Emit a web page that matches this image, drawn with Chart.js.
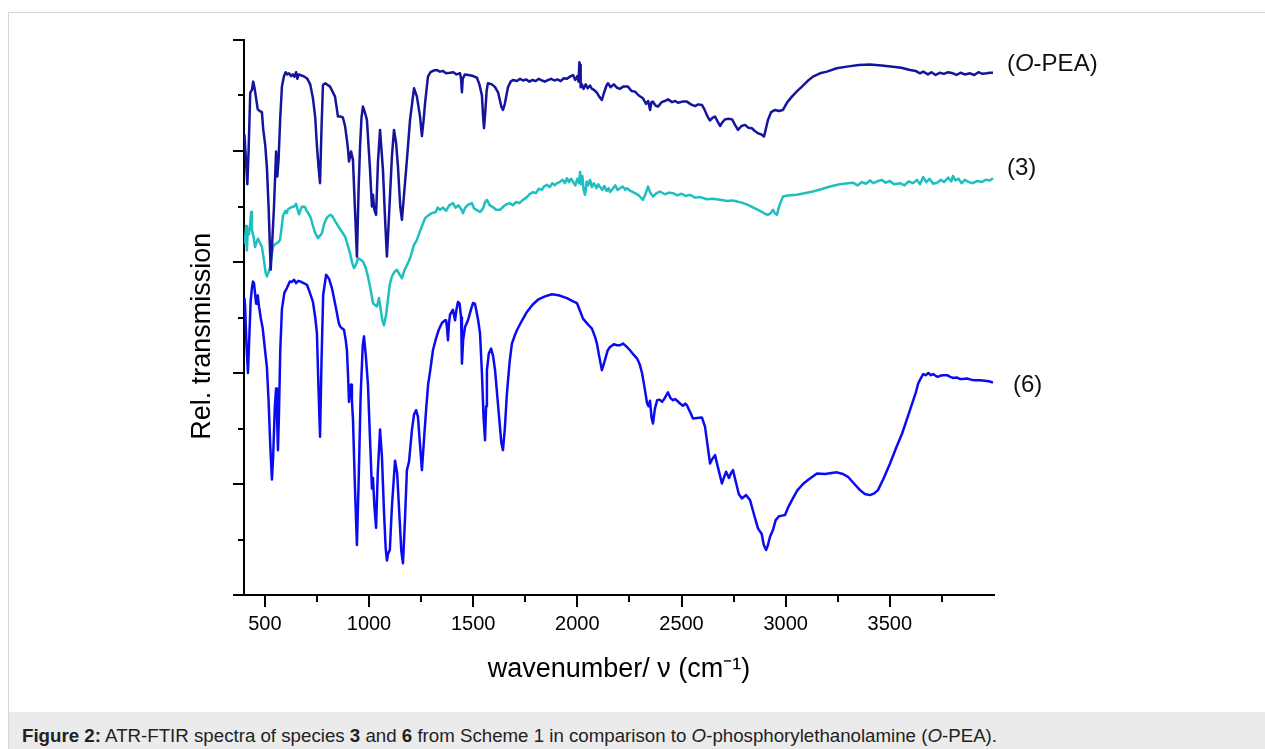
<!DOCTYPE html>
<html lang="en">
<head>
    <meta charset="UTF-8">
    <title>ATR-FTIR spectra</title>
    <script src="https://cdn.jsdelivr.net/npm/chart.js@4.4.1/dist/chart.umd.min.js"></script>
    <style>
        body { margin: 0; background: #fff; font-family: "Liberation Sans", Arial, sans-serif; }
        #frame { position: absolute; left: 8px; top: 12px; width: 1300px; height: 800px;
                 border-left: 1px solid #d6d6d6; border-top: 1px solid #d6d6d6; }
        #chart { position: absolute; left: 0; top: 0; }
        #caption { position: absolute; left: 9px; top: 712px; right: 0; height: 37px;
                   background: #ebebeb; box-sizing: border-box; padding: 13px 0 0 13px;
                   font-size: 18.7px; line-height: 22px; color: #222; white-space: nowrap; }
    </style>
    <script>
        // wavenumber (cm-1), relative transmission
        const opeaSpectrum = [
            [402,8.3],[410,7.8],[416,7.4],[422,8.0],[430,9.05],[438,9.1],[444,9.25],[450,9.15],[458,8.95],[466,8.75],
            [476,8.72],[486,8.7],[492,8.4],[502,8.1],[510,7.7],[518,7.0],[528,5.86],[536,6.4],[544,7.0],[554,7.99],
            [560,7.54],[566,7.85],[574,8.6],[582,9.16],[592,9.35],[600,9.42],[608,9.38],[616,9.4],[626,9.35],[634,9.38],
            [642,9.34],[650,9.42],[656,9.3],[662,9.38],[676,9.36],[690,9.34],[704,9.3],[718,9.2],[731,8.95],[742,8.6],
            [750,8.1],[758,7.7],[765,7.42],[772,8.4],[779,9.19],[790,9.22],[813,9.16],[837,8.98],[851,8.62],
            [865,8.62],[875,8.6],[885,8.45],[894,8.2],[900,8.0],[904,7.81],[914,7.99],[923,7.84],[932,7.0],[942,6.1],
            [950,7.3],[957,8.08],[964,8.6],[971,8.8],[980,8.7],[990,8.56],[1005,7.66],[1014,7.0],[1019,7.21],[1025,6.95],
            [1034,6.85],[1043,7.8],[1053,8.38],[1067,7.66],[1078,6.7],[1086,6.1],[1093,6.6],[1101,7.21],[1110,7.9],[1120,8.38],
            [1130,8.15],[1139,7.72],[1150,7.0],[1158,6.76],[1170,7.3],[1182,7.84],[1197,8.56],[1216,9.13],[1230,8.98],
            [1245,8.62],[1254,8.27],[1262,8.55],[1269,8.86],[1283,9.34],[1295,9.42],[1310,9.45],[1326,9.46],[1340,9.43],[1355,9.44],
            [1370,9.4],[1389,9.41],[1405,9.42],[1420,9.38],[1437,9.4],[1442,9.3],[1446,9.06],[1450,9.3],[1460,9.38],[1478,9.37],
            [1500,9.35],[1518,9.32],[1530,9.2],[1542,9.0],[1548,8.6],[1552,8.41],[1558,8.7],[1565,9.1],[1571,9.22],[1590,9.2],
            [1605,9.15],[1620,9.05],[1635,8.8],[1643,8.74],[1652,8.85],[1667,9.15],[1680,9.25],[1691,9.28],[1710,9.26],[1725,9.3],
            [1740,9.27],[1755,9.29],[1770,9.25],[1785,9.28],[1800,9.26],[1815,9.3],[1830,9.27],[1845,9.25],[1860,9.28],[1875,9.3],
            [1890,9.27],[1905,9.29],[1920,9.26],[1935,9.31],[1950,9.3],[1965,9.34],[1979,9.37],[1990,9.28],[2000,9.35],[2006,9.25],
            [2010,9.6],[2013,9.55],[2016,9.15],[2022,9.2],[2030,9.12],[2040,9.2],[2050,9.13],[2061,9.18],[2070,9.12],[2080,9.1],
            [2094,9.05],[2105,8.98],[2118,8.92],[2128,9.05],[2140,9.18],[2147,9.22],[2160,9.15],[2175,9.2],[2190,9.14],[2205,9.12],
            [2220,9.16],[2243,9.16],[2260,9.08],[2277,9.07],[2295,9.0],[2315,8.95],[2330,8.85],[2340,8.9],[2349,8.74],[2356,8.88],
            [2363,8.89],[2375,8.82],[2387,8.8],[2405,8.88],[2420,8.9],[2435,8.93],[2455,8.88],[2470,8.9],[2483,8.87],[2505,8.89],
            [2526,8.89],[2545,8.84],[2565,8.81],[2580,8.84],[2598,8.83],[2610,8.75],[2625,8.62],[2637,8.55],[2650,8.6],[2661,8.62],
            [2675,8.52],[2685,8.45],[2697,8.52],[2709,8.57],[2725,8.58],[2743,8.57],[2757,8.47],[2771,8.38],[2788,8.45],[2805,8.47],
            [2820,8.42],[2838,8.41],[2852,8.36],[2867,8.32],[2882,8.3],[2896,8.26],[2905,8.4],[2915,8.56],[2930,8.7],[2949,8.74],
            [2968,8.72],[2987,8.74],[3008,8.88],[3030,8.98],[3055,9.08],[3078,9.16],[3105,9.26],[3131,9.34],[3165,9.4],[3198,9.43],
            [3245,9.49],[3294,9.52],[3350,9.55],[3405,9.56],[3460,9.54],[3515,9.52],[3555,9.5],[3597,9.46],[3625,9.44],[3645,9.4],
            [3660,9.43],[3683,9.38],[3700,9.42],[3720,9.37],[3740,9.41],[3760,9.39],[3780,9.42],[3803,9.4],[3820,9.37],[3840,9.41],
            [3860,9.38],[3885,9.4],[3905,9.37],[3925,9.42],[3945,9.39],[3965,9.4],[3980,9.41],[3995,9.41]
        ];

        const species3Spectrum = [
            [402,6.5],[405,6.34],[410,6.65],[414,6.21],[418,6.6],[424,6.5],[430,6.7],[434,6.9],[438,6.58],[446,6.45],
            [453,6.27],[460,6.35],[467,6.42],[476,6.35],[486,6.27],[496,6.02],[504,5.8],[510,5.74],[518,5.82],[525,5.9],
            [532,6.1],[539,6.27],[548,6.32],[558,6.34],[566,6.36],[573,6.4],[580,6.6],[587,6.83],[598,6.92],[605,6.88],
            [611,6.95],[620,6.97],[630,6.99],[640,7.0],[650,7.05],[657,6.95],[664,6.86],[672,6.95],[680,7.0],[693,6.99],
            [700,6.92],[707,6.89],[720,6.8],[731,6.65],[742,6.52],[755,6.43],[764,6.47],[774,6.52],[786,6.7],[798,6.8],
            [813,6.85],[823,6.83],[840,6.72],[860,6.6],[885,6.46],[898,6.3],[909,6.16],[918,6.0],[928,5.89],[937,5.95],
            [947,6.07],[960,6.04],[971,6.01],[984,5.9],[995,5.74],[1008,5.5],[1019,5.26],[1030,5.22],[1038,5.2],[1048,5.35],
            [1056,5.15],[1064,4.95],[1072,4.86],[1082,5.05],[1091,5.33],[1100,5.6],[1110,5.74],[1122,5.82],[1134,5.86],[1146,5.78],
            [1158,5.71],[1170,5.85],[1187,5.98],[1200,6.1],[1215,6.3],[1230,6.4],[1245,6.56],[1269,6.79],[1285,6.84],[1302,6.88],[1320,6.9],
            [1330,6.98],[1341,6.94],[1355,6.98],[1370,6.92],[1385,7.02],[1403,7.06],[1415,6.98],[1430,7.02],[1443,6.95],[1451,6.88],
            [1462,6.98],[1475,7.03],[1494,7.06],[1505,6.96],[1520,6.93],[1533,6.9],[1548,6.97],[1557,7.08],[1566,7.12],[1580,7.02],
            [1595,6.99],[1610,6.94],[1629,6.94],[1645,7.0],[1660,7.04],[1677,7.06],[1690,7.02],[1705,7.08],[1722,7.06],[1739,7.12],
            [1755,7.16],[1770,7.22],[1787,7.26],[1800,7.24],[1815,7.32],[1830,7.3],[1840,7.36],[1854,7.39],[1868,7.35],[1880,7.42],
            [1892,7.38],[1902,7.42],[1915,7.44],[1930,7.48],[1940,7.42],[1950,7.51],[1960,7.44],[1970,7.5],[1979,7.45],[1990,7.38],
            [2000,7.5],[2008,7.42],[2013,7.62],[2018,7.4],[2024,7.55],[2030,7.3],[2037,7.21],[2045,7.45],[2052,7.38],[2061,7.48],
            [2070,7.35],[2080,7.42],[2092,7.33],[2100,7.4],[2109,7.35],[2120,7.3],[2130,7.37],[2140,7.28],[2150,7.33],[2157,7.26],
            [2170,7.32],[2182,7.38],[2193,7.3],[2205,7.33],[2218,7.36],[2230,7.3],[2238,7.33],[2255,7.28],[2277,7.24],[2295,7.2],
            [2315,7.12],[2325,7.2],[2339,7.36],[2350,7.25],[2363,7.18],[2380,7.24],[2397,7.27],[2420,7.22],[2440,7.25],[2459,7.24],
            [2480,7.2],[2500,7.23],[2520,7.19],[2541,7.21],[2565,7.16],[2590,7.17],[2622,7.13],[2650,7.14],[2685,7.12],[2720,7.1],
            [2745,7.11],[2766,7.09],[2790,7.07],[2819,7.03],[2850,6.97],[2877,6.92],[2900,6.87],[2915,6.85],[2928,6.88],[2939,6.94],
            [2948,6.88],[2958,6.85],[2970,7.02],[2987,7.18],[3010,7.2],[3054,7.21],[3090,7.24],[3131,7.27],[3170,7.31],[3213,7.36],
            [3260,7.4],[3300,7.42],[3323,7.43],[3345,7.38],[3365,7.44],[3385,7.41],[3405,7.47],[3420,7.42],[3438,7.45],[3460,7.48],
            [3480,7.43],[3500,7.46],[3520,7.4],[3549,7.42],[3570,7.38],[3590,7.45],[3612,7.42],[3630,7.48],[3645,7.4],[3660,7.53],
            [3675,7.44],[3690,7.5],[3708,7.41],[3727,7.43],[3745,7.48],[3760,7.44],[3780,7.52],[3795,7.45],[3803,7.55],[3815,7.47],
            [3830,7.5],[3845,7.42],[3860,7.48],[3880,7.44],[3899,7.42],[3920,7.46],[3940,7.44],[3960,7.48],[3980,7.47],[3995,7.51]
        ];

        const species6Spectrum = [
            [402,5.35],[405,5.22],[412,4.5],[419,4.0],[426,4.7],[432,5.3],[438,5.53],[443,5.65],[448,5.62],[454,5.4],
            [458,5.25],[462,5.38],[466,5.4],[472,5.2],[480,5.0],[490,4.8],[501,4.41],[510,4.1],[518,3.5],[526,2.7],
            [534,2.08],[540,2.5],[548,3.4],[554,3.72],[558,3.3],[563,2.61],[568,3.3],[574,4.4],[582,5.15],[594,5.45],
            [606,5.53],[614,5.6],[620,5.65],[630,5.64],[640,5.68],[650,5.62],[660,5.66],[669,5.65],[686,5.62],[702,5.59],
            [716,5.45],[731,5.28],[742,5.0],[750,4.72],[757,3.8],[765,2.85],[772,4.2],[780,5.4],[794,5.77],[808,5.7],
            [822,5.53],[840,5.2],[855,4.9],[861,4.84],[872,4.8],[880,4.78],[888,4.6],[894,4.41],[900,3.9],[904,3.48],
            [909,3.75],[914,3.79],[918,3.5],[923,3.17],[932,2.0],[942,0.9],[950,2.0],[960,3.6],[970,4.5],[976,4.66],
            [985,4.3],[995,3.79],[1005,2.8],[1014,1.92],[1019,2.11],[1026,1.6],[1034,1.21],[1042,2.2],[1053,2.98],[1062,2.5],
            [1072,1.5],[1080,0.85],[1086,0.62],[1092,0.75],[1100,0.81],[1110,1.6],[1125,2.42],[1135,2.2],[1145,1.5],[1155,0.8],
            [1163,0.57],[1172,1.3],[1182,2.25],[1192,2.4],[1206,2.97],[1216,3.25],[1226,3.33],[1235,3.21],[1245,2.7],[1254,2.25],
            [1264,2.8],[1274,3.33],[1284,3.8],[1293,4.02],[1307,4.41],[1320,4.6],[1335,4.78],[1350,4.9],[1365,4.95],[1370,4.95],
            [1375,4.8],[1379,4.59],[1384,4.9],[1389,5.05],[1403,5.14],[1413,4.95],[1420,5.15],[1427,5.28],[1435,5.25],[1442,5.0],
            [1446,4.17],[1452,4.6],[1461,4.83],[1475,4.95],[1490,5.15],[1499,5.26],[1508,5.25],[1514,5.15],[1524,4.95],[1533,4.71],
            [1542,4.0],[1550,3.2],[1557,2.79],[1562,3.4],[1566,4.05],[1575,4.35],[1586,4.44],[1596,4.3],[1605,4.05],[1620,3.4],
            [1635,2.75],[1643,2.61],[1652,3.0],[1662,3.63],[1675,4.2],[1686,4.53],[1700,4.68],[1710,4.77],[1735,4.95],[1758,5.1],
            [1785,5.23],[1811,5.32],[1845,5.38],[1878,5.42],[1910,5.4],[1950,5.35],[1975,5.3],[1998,5.26],[2015,5.1],[2027,4.98],
            [2050,4.88],[2070,4.8],[2085,4.65],[2094,4.53],[2105,4.3],[2118,4.05],[2130,4.2],[2145,4.4],[2157,4.47],[2175,4.52],
            [2190,4.5],[2205,4.5],[2219,4.53],[2235,4.48],[2253,4.41],[2270,4.33],[2287,4.26],[2300,4.15],[2311,3.99],[2322,3.75],
            [2335,3.45],[2342,3.4],[2349,3.5],[2356,3.2],[2363,3.09],[2372,3.35],[2383,3.51],[2395,3.52],[2407,3.48],[2420,3.55],
            [2435,3.65],[2447,3.55],[2459,3.51],[2470,3.53],[2479,3.5],[2493,3.45],[2507,3.41],[2518,3.45],[2526,3.42],[2541,3.3],
            [2555,3.18],[2575,3.19],[2598,3.2],[2613,3.03],[2625,2.7],[2637,2.37],[2648,2.45],[2661,2.52],[2675,2.3],[2694,2.01],
            [2704,2.12],[2714,2.22],[2728,2.11],[2738,2.2],[2747,2.25],[2760,2.05],[2775,1.82],[2790,1.74],[2810,1.8],[2829,1.71],
            [2848,1.45],[2867,1.2],[2885,1.1],[2895,0.9],[2906,0.81],[2915,0.9],[2925,1.05],[2939,1.17],[2952,1.35],[2968,1.42],
            [2983,1.43],[2997,1.44],[3012,1.58],[3030,1.71],[3055,1.88],[3083,2.0],[3110,2.08],[3150,2.19],[3189,2.18],[3220,2.2],
            [3246,2.21],[3275,2.18],[3299,2.13],[3330,2.0],[3357,1.89],[3380,1.82],[3405,1.8],[3425,1.83],[3443,1.89],[3470,2.1],
            [3501,2.37],[3530,2.65],[3559,2.91],[3585,3.2],[3607,3.45],[3625,3.65],[3636,3.81],[3648,3.9],[3660,3.98],[3672,3.96],
            [3685,4.0],[3697,3.96],[3708,3.98],[3720,3.95],[3730,3.93],[3741,3.95],[3755,3.96],[3775,3.96],[3790,3.93],[3805,3.91],
            [3820,3.92],[3838,3.89],[3852,3.89],[3870,3.9],[3890,3.88],[3910,3.87],[3933,3.87],[3955,3.86],[3975,3.85],[3995,3.83]
        ];

        const seriesNames = ['(O-PEA)', '(3)', '(6)'];
        const seriesColors = ['#14149c', '#1fbfbf', '#0b0bf0'];
        const xMajorTicks = [500, 1000, 1500, 2000, 2500, 3000, 3500];
        const xMinorTicks = [750, 1250, 1750, 2250, 2750, 3250, 3750];
        const yMajorTicks = [0, 2, 4, 6, 8, 10];
        const yMinorTicks = [1, 3, 5, 7, 9];
    </script>
</head>
<body>
    <div id="frame"></div>
    <canvas id="chart" width="1265" height="712"></canvas>
    <div id="caption"><b>Figure 2:</b> ATR-FTIR spectra of species <b>3</b> and <b>6</b> from Scheme 1 in comparison to <i>O</i>-phosphorylethanolamine (<i>O</i>-PEA).</div>

    <script>
        const toPoints = arr => arr.map(p => ({x: p[0], y: p[1]}));
        const FONT = '"Liberation Sans", Arial, sans-serif';

        // tick marks (long major / short minor) and the end labels of each trace
        const axisDecor = {
            id: 'axisDecor',
            afterDraw(chart) {
                const ctx = chart.ctx;
                const xs = chart.scales.x, ys = chart.scales.y;
                const area = chart.chartArea;
                ctx.save();
                ctx.strokeStyle = '#000';
                ctx.lineWidth = 2;
                ctx.beginPath();
                xMajorTicks.forEach(v => { const px = Math.round(xs.getPixelForValue(v)); ctx.moveTo(px, area.bottom); ctx.lineTo(px, area.bottom + 12); });
                xMinorTicks.forEach(v => { const px = Math.round(xs.getPixelForValue(v)); ctx.moveTo(px, area.bottom); ctx.lineTo(px, area.bottom + 7); });
                yMajorTicks.forEach(v => { const py = Math.round(ys.getPixelForValue(v)); ctx.moveTo(area.left, py); ctx.lineTo(area.left - 11, py); });
                yMinorTicks.forEach(v => { const py = Math.round(ys.getPixelForValue(v)); ctx.moveTo(area.left, py); ctx.lineTo(area.left - 6, py); });
                ctx.stroke();

                // labels at the right end of each spectrum
                const dy = [-8, -10, 3];
                const dx = [14, 14, 20];
                ctx.fillStyle = '#111';
                ctx.textBaseline = 'middle';
                ctx.textAlign = 'left';
                chart.data.datasets.forEach((ds, i) => {
                    const last = ds.data[ds.data.length - 1];
                    let x = xs.getPixelForValue(last.x) + dx[i];
                    const y = ys.getPixelForValue(last.y) + dy[i];
                    const name = seriesNames[i];
                    if (name.indexOf('O-') === 1) {
                        // italic O in (O-PEA)
                        ctx.font = '24px ' + FONT;
                        ctx.fillText('(', x, y); x += ctx.measureText('(').width;
                        ctx.font = 'italic 24px ' + FONT;
                        ctx.fillText('O', x, y); x += ctx.measureText('O').width;
                        ctx.font = '24px ' + FONT;
                        ctx.fillText(name.slice(2), x, y);
                    } else {
                        ctx.font = '24px ' + FONT;
                        ctx.fillText(name, x, y);
                    }
                });
                ctx.restore();
            }
        };

        new Chart(document.getElementById('chart'), {
            type: 'line',
            data: {
                datasets: [opeaSpectrum, species3Spectrum, species6Spectrum].map((s, i) => ({
                    label: seriesNames[i],
                    data: toPoints(s),
                    borderColor: seriesColors[i],
                    borderWidth: 2.5,
                    pointRadius: 0,
                    tension: 0,
                    borderJoinStyle: 'round',
                    fill: false
                }))
            },
            options: {
                responsive: false,
                animation: false,
                devicePixelRatio: 1,
                layout: { padding: { left: 186, top: 40, right: 271, bottom: 0 } },
                plugins: { legend: { display: false }, tooltip: { enabled: false } },
                scales: {
                    x: {
                        type: 'linear',
                        min: 400,
                        max: 4000,
                        afterBuildTicks: scale => { scale.ticks = xMajorTicks.map(v => ({value: v})); },
                        afterFit: scale => { scale.height = 117; },
                        grid: { display: false, drawTicks: false },
                        border: { display: true, color: '#000', width: 2 },
                        ticks: { color: '#000', padding: 17, maxRotation: 0, autoSkip: false,
                                 callback: v => String(v),
                                 font: { family: FONT, size: 20 } },
                        title: { display: true, text: 'wavenumber/ \u03bd (cm\u207b\u00b9)', color: '#000',
                                 font: { family: FONT, size: 27 }, padding: { top: 0, bottom: 26 } }
                    },
                    y: {
                        type: 'linear',
                        min: 0,
                        max: 10,
                        afterFit: scale => { scale.width = 58; },
                        grid: { display: false, drawTicks: false },
                        border: { display: true, color: '#000', width: 2 },
                        ticks: { display: false },
                        title: { display: true, text: 'Rel. transmission\u00a0\u00a0\u00a0\u00a0\u00a0', color: '#000',
                                 font: { family: FONT, size: 27 }, padding: { top: 0, bottom: 0 } }
                    }
                }
            },
            plugins: [axisDecor]
        });
    </script>
</body>
</html>
